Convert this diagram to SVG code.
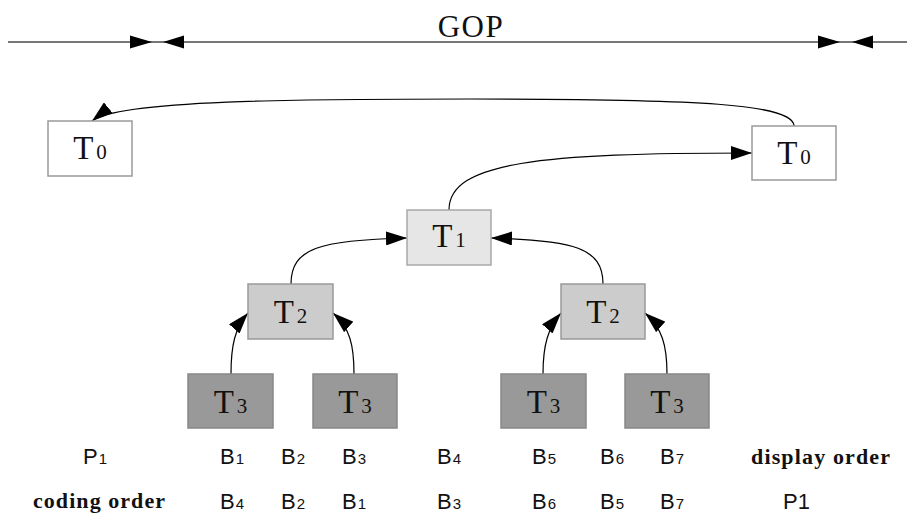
<svg xmlns="http://www.w3.org/2000/svg" width="907" height="515" viewBox="0 0 907 515">
<style>
.bx{stroke-width:1.5}
.t0{fill:#ffffff;stroke:#9a9a9a}
.t1{fill:#e6e6e6;stroke:#a8a8a8}
.t2{fill:#cccccc;stroke:#999999}
.t3{fill:#999999;stroke:#888888}
.tl{font-family:"Liberation Serif","DejaVu Serif",serif;font-size:33px;fill:#111;text-anchor:middle}
.sub{font-size:21px}
.bl{font-family:"Liberation Sans",Arial,sans-serif;font-size:22px;fill:#111}
.bs{font-size:15px}
.hd{font-family:"Liberation Serif","DejaVu Serif",serif;font-size:22px;font-weight:bold;fill:#111}
.cn{fill:none;stroke:#000;stroke-width:1.2;marker-end:url(#arr)}
</style>
<defs>
<marker id="arr" viewBox="0 0 21 14" refX="21" refY="7" markerWidth="21" markerHeight="14" orient="auto" markerUnits="userSpaceOnUse">
<path d="M0,0 L21,7 L0,14 z" fill="#000"/>
</marker>
</defs>
<rect width="907" height="515" fill="#fff"/>
<g id="gop">
<line x1="8" y1="42" x2="907" y2="42" stroke="#777" stroke-width="2"/>
<polygon points="130,35.5 152,42 130,48.5" fill="#000"/>
<polygon points="184,35.5 163,42 184,48.5" fill="#000"/>
<polygon points="818,35.5 840,42 818,48.5" fill="#000"/>
<polygon points="873,35.5 852,42 873,48.5" fill="#000"/>
<text x="471" y="37" font-family="'Liberation Serif','DejaVu Serif',serif" font-size="31" letter-spacing="1.5" text-anchor="middle" fill="#111">GOP</text>
</g>
<g id="connectors">
<path class="cn" d="M794,126 C794,104 700,99 470,99 C300,99 118,100 92,121"/>
<path class="cn" d="M449,210 C449,162 540,153 752,153"/>
<path class="cn" d="M291,284 C291,248 320,240 407,238"/>
<path class="cn" d="M603,284 C603,248 574,240 491,238"/>
<path class="cn" d="M231,374 C231,345 235,328 248,313"/>
<path class="cn" d="M354,374 C354,345 350,328 333,313"/>
<path class="cn" d="M543,374 C543,345 548,328 561,313"/>
<path class="cn" d="M667,374 C667,345 662,328 645,313"/>
</g>
<g id="T0a"><rect class="bx t0" x="48" y="121" width="84" height="55"/><text class="tl" x="90" y="159">T<tspan class="sub" dx="3">0</tspan></text></g>
<g id="T0b"><rect class="bx t0" x="752" y="126" width="84" height="54"/><text class="tl" x="794" y="164">T<tspan class="sub" dx="3">0</tspan></text></g>
<g id="T1"><rect class="bx t1" x="407" y="210" width="84" height="55"/><text class="tl" x="449" y="247">T<tspan class="sub" dx="3">1</tspan></text></g>
<g id="T2a"><rect class="bx t2" x="248" y="284" width="85" height="55"/><text class="tl" x="290.5" y="323">T<tspan class="sub" dx="3">2</tspan></text></g>
<g id="T2b"><rect class="bx t2" x="561" y="284" width="84" height="55"/><text class="tl" x="603" y="323">T<tspan class="sub" dx="3">2</tspan></text></g>
<g id="T3a"><rect class="bx t3" x="188" y="374" width="85" height="54"/><text class="tl" x="230.5" y="413">T<tspan class="sub" dx="3">3</tspan></text></g>
<g id="T3b"><rect class="bx t3" x="313" y="374" width="84" height="54"/><text class="tl" x="355" y="413">T<tspan class="sub" dx="3">3</tspan></text></g>
<g id="T3c"><rect class="bx t3" x="501" y="374" width="85" height="54"/><text class="tl" x="543.5" y="413">T<tspan class="sub" dx="3">3</tspan></text></g>
<g id="T3d"><rect class="bx t3" x="625" y="374" width="84" height="54"/><text class="tl" x="667" y="413">T<tspan class="sub" dx="3">3</tspan></text></g>
<g id="display-row">
<text class="bl" x="83" y="464">P<tspan class="bs" dx="1">1</tspan></text>
<text class="bl" x="220" y="464">B<tspan class="bs" dx="1">1</tspan></text>
<text class="bl" x="281" y="464">B<tspan class="bs" dx="1">2</tspan></text>
<text class="bl" x="342" y="464">B<tspan class="bs" dx="1">3</tspan></text>
<text class="bl" x="437" y="464">B<tspan class="bs" dx="1">4</tspan></text>
<text class="bl" x="532" y="464">B<tspan class="bs" dx="1">5</tspan></text>
<text class="bl" x="600" y="464">B<tspan class="bs" dx="1">6</tspan></text>
<text class="bl" x="660" y="464">B<tspan class="bs" dx="1">7</tspan></text>
<text class="hd" x="751" y="464" textLength="139" lengthAdjust="spacing">display order</text>
</g>
<g id="coding-row">
<text class="hd" x="33" y="508" textLength="132" lengthAdjust="spacing">coding order</text>
<text class="bl" x="220" y="509">B<tspan class="bs" dx="1">4</tspan></text>
<text class="bl" x="281" y="509">B<tspan class="bs" dx="1">2</tspan></text>
<text class="bl" x="342" y="509">B<tspan class="bs" dx="1">1</tspan></text>
<text class="bl" x="437" y="509">B<tspan class="bs" dx="1">3</tspan></text>
<text class="bl" x="532" y="509">B<tspan class="bs" dx="1">6</tspan></text>
<text class="bl" x="600" y="509">B<tspan class="bs" dx="1">5</tspan></text>
<text class="bl" x="660" y="509">B<tspan class="bs" dx="1">7</tspan></text>
<text class="bl" x="783" y="509">P1</text>
</g>
</svg>
